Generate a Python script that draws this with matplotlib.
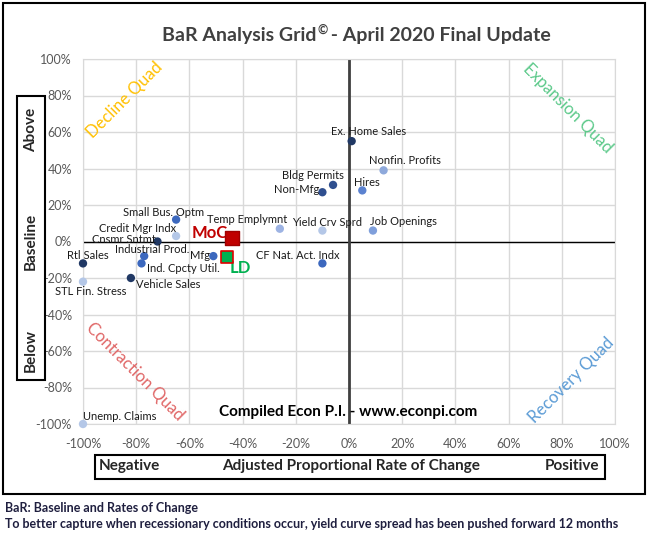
import matplotlib
matplotlib.use("Agg")
import matplotlib.pyplot as plt
from matplotlib.patches import Rectangle
from matplotlib.ticker import FuncFormatter, MultipleLocator
from matplotlib import font_manager

names = {f.name for f in font_manager.fontManager.ttflist}
FONT = "Lato" if "Lato" in names else "DejaVu Sans"
plt.rcParams['font.family'] = [FONT, 'DejaVu Sans']

# indicator data (x = rate of change %, y = baseline %)
indicators = ["Ex. Home Sales", "Nonfin. Profits", "Hires", "Bldg Permits", "Non-Mfg",
              "Job Openings", "Yield Crv Sprd", "Temp Emplymnt", "CF Nat. Act. Indx",
              "Mfg", "Small Bus. Optm", "Credit Mgr Indx", "Cnsmr Sntmt",
              "Industrial Prod.", "Ind. Cpcty Util.", "Rtl Sales", "STL Fin. Stress",
              "Vehicle Sales", "Unemp. Claims"]
rate_x = [1, 13, 5, -6, -10, 9, -10, -26, -10, -51, -65, -65, -72, -77, -78, -100, -100, -82, -100]
base_y = [55, 39, 28, 31, 27, 6, 6, 7, -12, -8, 12, 3, 0, -8, -12, -12, -22, -20, -100]
shade = ["#203864", "#8EA9DB", "#5B82D0", "#2F4F8F", "#2F4F8F",
         "#7F9FDB", "#B4C7E7", "#9DB3E3", "#3C68BE",
         "#3C68BE", "#3C68BE", "#B4C7E7", "#203864",
         "#3C68BE", "#3C68BE", "#203864", "#B4C7E7",
         "#203864", "#B4C7E7"]

# composite markers
moc_x, moc_y = -44, 2
ld_x, ld_y = -46, -8.5

# label placement (offset pixels, alignment)
offsets = [(17, 10, "center"), (-15, 10, "left"), (-8, 8, "left"), (11, 9, "right"),
           (-3, 3, "right"), (-3, 9, "left"), (5, 8, "center"), (-33, 9, "center"),
           (-25, 8, "center"), (-3, 1, "right"), (-13, 7, "center"), (-39, 8, "center"),
           (-34, 2, "center"), (8, 7, "center"), (5, -5, "left"), (5, 8, "center"),
           (8, -10, "center"), (5, -6, "left"), (0, 8, "left")]

W, H = 650, 534
fig = plt.figure(figsize=(W / 100, H / 100), dpi=100)
ax = fig.add_axes([83 / W, 1 - 424 / H, (615 - 83) / W, (424 - 59) / H])

ax.set_xlim(-100, 100)
ax.set_ylim(-100, 100)
ax.xaxis.set_major_locator(MultipleLocator(20))
ax.yaxis.set_major_locator(MultipleLocator(20))
pct = FuncFormatter(lambda v, p: f"{v:.0f}%")
ax.xaxis.set_major_formatter(pct)
ax.yaxis.set_major_formatter(pct)
ax.grid(True, color="#D9D9D9", lw=1)
ax.set_axisbelow(True)
for s in ax.spines.values():
    s.set_color("#D9D9D9")
ax.tick_params(length=0, labelsize=9, colors="#595959", pad=8)
ax.tick_params(axis="x", pad=10)

ax.axhline(0, color="black", lw=1, zorder=2)
ax.axvline(0, color="#404040", lw=2, zorder=2)

ax.scatter(rate_x, base_y, s=36, c=shade, zorder=4, linewidths=0, clip_on=False)
for name, x, y, (dx, dy, ha) in zip(indicators, rate_x, base_y, offsets):
    ax.annotate(name, (x, y), xytext=(dx, dy), textcoords="offset pixels",
                ha=ha, va="center", fontsize=8, color="#1a1a1a", zorder=5)

ax.scatter([moc_x], [moc_y], marker="s", s=110, c="#C00000", edgecolors="#A00000", zorder=6)
ax.scatter([ld_x], [ld_y], marker="s", s=75, c="#00B050", edgecolors="#E00000", lw=1.2, zorder=6)
ax.annotate("MoC", (moc_x, moc_y), xytext=(-4, 5), textcoords="offset pixels",
            ha="right", va="center", fontsize=12, fontweight="bold", color="#C00000")
ax.annotate("LD", (ld_x, ld_y), xytext=(3, -11), textcoords="offset pixels",
            ha="left", va="center", fontsize=12, fontweight="bold", color="#00B050")

# quadrant captions
def fig_text(px, py, s, **kw):
    fig.text(px / W, 1 - py / H, s, **kw)

fig_text(125, 100, "Decline Quad", rotation=45, ha="center", va="center", fontsize=12, color="#FFC000")
fig_text(568, 108, "Expansion Quad", rotation=-45, ha="center", va="center", fontsize=12, color="#5CC98A")
fig_text(135, 372, "Contraction Quad", rotation=-45, ha="center", va="center", fontsize=12, color="#E06666")
fig_text(571, 380, "Recovery Quad", rotation=45, ha="center", va="center", fontsize=12, color="#5B9BD5")
fig_text(348, 412, "Compiled Econ P.I. - www.econpi.com", ha="center", va="center",
         fontsize=11, fontweight="bold", color="black")

fig_text(316, 36, "BaR Analysis Grid", ha="right", va="center",
         fontsize=14, fontweight="bold", color="#404040")
fig_text(317, 30, "\u00a9", ha="left", va="center", fontsize=9, fontweight="bold", color="#404040")
fig_text(326, 36, " - April 2020 Final Update", ha="left", va="center",
         fontsize=14, fontweight="bold", color="#404040")

# y label box
fig.patches.append(Rectangle((17 / W, 1 - 380 / H), 28 / W, 284 / H, transform=fig.transFigure,
                             fill=False, ec="black", lw=1.5))
for py, s in [(130, "Above"), (241, "Baseline"), (350, "Below")]:
    fig_text(31, py, s, rotation=90, ha="center", va="center", fontsize=11, fontweight="bold", color="#262626")

# x label box
fig.patches.append(Rectangle((95 / W, 1 - 479 / H), 510 / W, 24 / H, transform=fig.transFigure,
                             fill=False, ec="black", lw=1.5))
fig_text(99, 466, "Negative", ha="left", va="center", fontsize=11, fontweight="bold", color="#262626")
fig_text(351, 466, "Adjusted Proportional Rate of Change", ha="center", va="center", fontsize=11, fontweight="bold", color="#262626")
fig_text(599, 466, "Positive", ha="right", va="center", fontsize=11, fontweight="bold", color="#262626")

# outer frame
fig.patches.append(Rectangle((3 / W, 1 - 494 / H), 642 / W, 491 / H, transform=fig.transFigure,
                             fill=False, ec="black", lw=1.5))

fig_text(5, 508, "BaR: Baseline and Rates of Change", ha="left", va="center", fontsize=9, fontweight="bold", color="#1F1F3F")
fig_text(5, 524, "To better capture when recessionary conditions occur, yield curve spread has been pushed forward 12 months",
         ha="left", va="center", fontsize=9, fontweight="bold", color="#1F1F3F")

fig.savefig("out.png", dpi=100)
